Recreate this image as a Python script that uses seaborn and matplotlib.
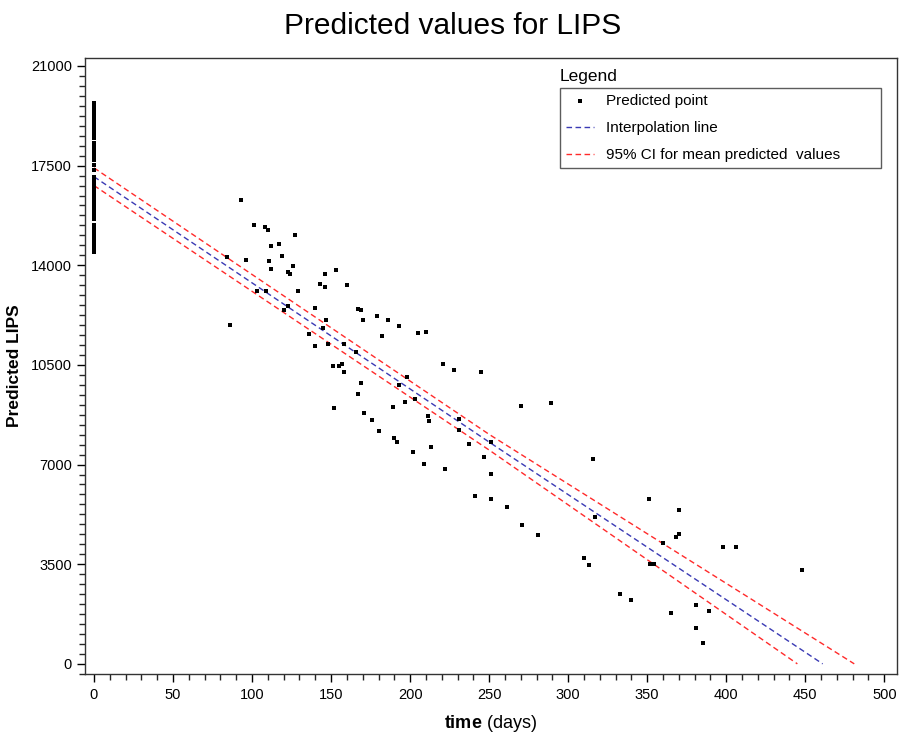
import matplotlib
matplotlib.use("Agg")
import matplotlib.pyplot as plt
import seaborn as sns
import pandas as pd
from matplotlib.ticker import MultipleLocator

# predicted values at time 0 (dense column)
t0_values = [19700, 19620, 19540, 19460, 19380, 19300, 19220, 19140, 19060, 18980,
             18900, 18820, 18740, 18660, 18580, 18480, 18290, 18200, 18120,
             17980, 17900, 17820, 17700, 17520, 17350,
             17100, 17020, 16940, 16860, 16780, 16700, 16620, 16540, 16470,
             16400, 16320, 16240, 16160, 16080, 16000, 15920, 15870,
             15770, 15690, 15630,
             15410, 15330, 15250, 15170, 15090, 15010, 14930, 14850, 14770,
             14690, 14610, 14530, 14470]

# predicted points over time
pt_days = [93, 101, 108, 110, 127, 117, 112, 119, 111, 126, 112, 84, 96, 123, 124,
           129, 103, 109, 123, 120, 86, 146, 153, 143, 146, 160, 140, 167, 169, 170,
           179, 186, 193, 205, 210, 147, 145, 136, 140, 148, 158, 182, 166, 151, 155,
           157, 158, 198, 193, 169, 167, 203, 197, 152, 189, 171, 176, 211, 212, 180,
           190, 192, 213, 221, 228, 245, 231, 231, 237, 251, 270, 289, 202, 209, 222,
           247, 251, 241, 251, 261, 271, 281, 316, 317, 351, 370, 370, 368, 360, 398,
           406, 310, 313, 352, 354, 448, 333, 340, 365, 381, 389, 381, 385]
pt_values = [16280, 15430, 15330, 15230, 15080, 14730, 14660, 14320, 14160, 13970,
             13880, 14280, 14180, 13780, 13680, 13080, 13080, 13080, 12570, 12420,
             11890, 13710, 13840, 13340, 13220, 13290, 12500, 12460, 12420, 12070,
             12230, 12070, 11850, 11630, 11660, 12060, 11790, 11590, 11150, 11220,
             11240, 11520, 10940, 10460, 10460, 10520, 10240, 10080, 9790, 9850,
             9480, 9290, 9210, 8980, 9010, 8800, 8560, 8720, 8530, 8170,
             7930, 7790, 7630, 10520, 10310, 10240, 8590, 8210, 7730, 7790,
             9070, 9160, 7450, 7010, 6860, 7270, 6660, 5910, 5800, 5520,
             4890, 4520, 7200, 5150, 5800, 5410, 4550, 4450, 4250, 4120,
             4100, 3720, 3460, 3500, 3500, 3310, 2450, 2260, 1770, 2050,
             1860, 1250, 740]

# interpolation line and 95% CI
fit_x = [0, 250, 461]
fit_y = [17110, 7790, 0]
upper_x = [0, 250, 481]
upper_y = [17420, 8060, 0]
lower_x = [0, 250, 445]
lower_y = [16800, 7510, 0]

sns.set_style("ticks")
plt.rcParams['font.family'] = ['Liberation Sans', 'DejaVu Sans']
plt.rcParams['mathtext.fontset'] = 'custom'
plt.rcParams['mathtext.bf'] = 'Liberation Sans:bold'
plt.rcParams['mathtext.rm'] = 'Liberation Sans'
plt.rcParams['text.color'] = 'black'
plt.rcParams['axes.labelcolor'] = 'black'

df_pts = pd.DataFrame({"time": [0] * len(t0_values) + pt_days,
                       "lips": t0_values + pt_values})

fig, ax = plt.subplots(figsize=(9.06, 7.34), dpi=100)
fig.subplots_adjust(left=0.0938, right=0.990, bottom=0.082, top=0.921)

sns.scatterplot(data=df_pts, x="time", y="lips", marker="s", s=5.5, color="black",
                linewidth=0, ax=ax, label="Predicted point", zorder=3)
sns.lineplot(x=fit_x, y=fit_y, color="#3a3ab4", linewidth=1, linestyle=(0, (4, 2.5)),
             ax=ax, label="Interpolation line")
sns.lineplot(x=upper_x, y=upper_y, color="#ff2a2a", linewidth=1, linestyle=(0, (4, 2.5)),
             ax=ax, label="95% CI for mean predicted  values")
sns.lineplot(x=lower_x, y=lower_y, color="#ff2a2a", linewidth=1, linestyle=(0, (4, 2.5)),
             ax=ax)

ax.set_xlim(-5.7, 508)
ax.set_ylim(-350, 21280)
ax.xaxis.set_major_locator(MultipleLocator(50))
ax.xaxis.set_minor_locator(MultipleLocator(10))
ax.yaxis.set_major_locator(MultipleLocator(3500))
ax.yaxis.set_minor_locator(MultipleLocator(350))
ax.tick_params(which="major", length=6, width=1, labelsize=10.5, colors="black")
ax.tick_params(which="minor", length=4, width=1)
ax.tick_params(axis="x", pad=4)
for spine in ax.spines.values():
    spine.set_visible(True)
    spine.set_color("#333333")
    spine.set_linewidth(1)

ax.set_xlabel(r"$\bf{time}$ (days)", fontsize=13, labelpad=8)
ax.set_ylabel("Predicted LIPS", fontsize=12.5, fontweight="bold", labelpad=6)
fig.suptitle("Predicted values for LIPS", fontsize=21.5, y=0.964, va="center")

leg = ax.legend(loc="upper left", bbox_to_anchor=(0.585, 0.817, 0.395, 0.134),
                mode="expand", borderaxespad=0, fontsize=11, frameon=True,
                fancybox=False, handlelength=1.8, labelspacing=0.85,
                handletextpad=0.8, markerscale=1.2)
leg.get_frame().set_edgecolor("#333333")
leg.get_frame().set_linewidth(1)
ax.text(0.585, 0.958, "Legend", transform=ax.transAxes, fontsize=12.5,
        ha="left", va="bottom")

plt.savefig("out.png", dpi=100)
